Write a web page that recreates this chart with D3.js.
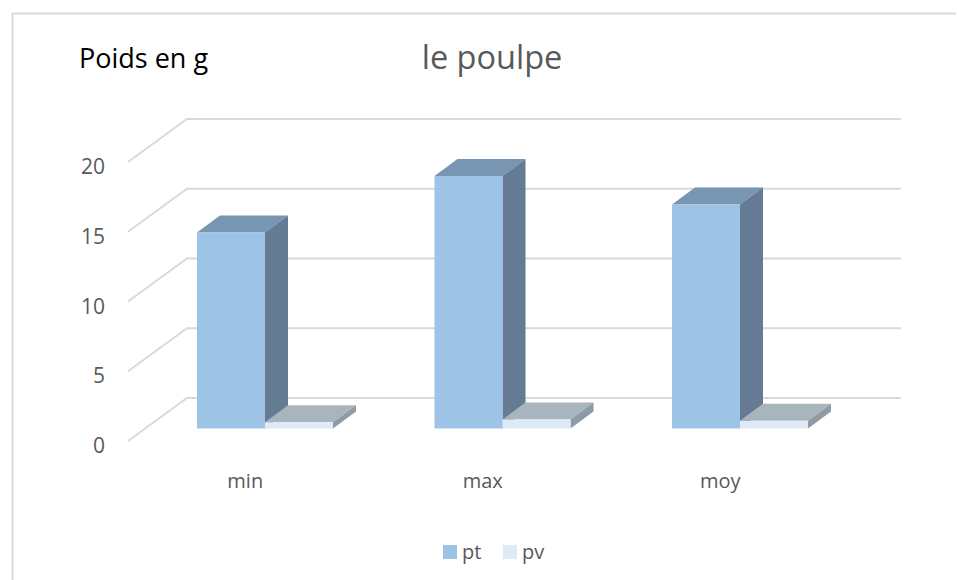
<!DOCTYPE html>
<html>
<head>
<meta charset="utf-8">
<script src="https://cdn.jsdelivr.net/npm/d3@7"></script>
<style>
html,body{margin:0;padding:0;background:#fff;overflow:hidden}
text{font-family:"Open Sans",sans-serif}
</style>
</head>
<body>
<svg width="957" height="580"></svg>
<script>
var categories=["min","max","moy"];
var seriesNames=["pt","pv"];
var pt=[14.05,18.1,16.05];
var pv=[0.45,0.65,0.55];
var yTicks=[0,5,10,15,20];

var svg=d3.select("svg");

//cadre
svg.append("path")
   .attr("d","M956,13.5H12.5V580")
   .attr("fill","none")
   .attr("stroke","#d9d9d9")
   .attr("stroke-width",2);

//echelles
var heightScale=d3.scaleLinear().domain([0,20]).range([0,279]);
var frontY=d3.scaleLinear().domain([0,20]).range([441,162]);
var backY=d3.scaleLinear().domain([0,20]).range([398,119]);
var catScale=d3.scaleBand().domain(categories).range([146.5,859]);
var serieScale=d3.scaleBand().domain(seriesNames).range([50.5,186.5]);
var color={pt:{front:"#9dc3e6",top:"#7896b2",side:"#647b93"},
           pv:{front:"#deebf7",top:"#a9b5bd",side:"#8e9aa4"}};
var baseY=428.5,depthX=23,depthY=17;

//grille
yTicks.forEach(function(t){
	svg.append("path")
	   .attr("d","M128,"+frontY(t)+"L187,"+backY(t)+"H901")
	   .attr("fill","none")
	   .attr("stroke","#d9d9d9")
	   .attr("stroke-width",2);
});

//barres
function drawBar(name,cat,value){
	var x=catScale(cat)+serieScale(name);
	var w=serieScale.bandwidth();
	var top=baseY-heightScale(value);
	var c=color[name];
	var g=svg.append("g");
	g.append("polygon")
	 .attr("points",[[x,top],[x+w,top],[x+w+depthX,top-depthY],[x+depthX,top-depthY]].join(" "))
	 .attr("fill",c.top);
	g.append("polygon")
	 .attr("points",[[x+w,top],[x+w+depthX,top-depthY],[x+w+depthX,baseY-depthY],[x+w,baseY]].join(" "))
	 .attr("fill",c.side);
	g.append("rect")
	 .attr("x",x).attr("y",top).attr("width",w).attr("height",baseY-top)
	 .attr("fill",c.front);
}
categories.forEach(function(cat,i){
	drawBar("pt",cat,pt[i]);
	drawBar("pv",cat,pv[i]);
});

//axes
var yAxis=svg.append("g")
   .attr("transform","translate(110,5)")
   .call(d3.axisLeft(frontY).tickValues(yTicks).tickSize(0).tickPadding(5));
var xAxis=svg.append("g")
   .attr("transform","translate(-20,474)")
   .call(d3.axisBottom(catScale).tickSize(0).tickPadding(0));
svg.selectAll(".domain").remove();
yAxis.selectAll("text").attr("fill","#595959").style("font-size","21px").style("font-family","'Open Sans',sans-serif");
xAxis.selectAll("text").attr("fill","#595959").style("font-size","20px").style("font-family","'Open Sans',sans-serif");

//titres
svg.append("text").attr("x",79).attr("y",68).attr("fill","#000").style("font-size","27px").text("Poids en g");
svg.append("text").attr("x",492).attr("y",69).attr("text-anchor","middle").attr("fill","#595959").style("font-size","32.5px").text("le poulpe");

//legende
var legendX={pt:443,pv:503};
seriesNames.forEach(function(n){
	svg.append("rect").attr("x",legendX[n]).attr("y",545).attr("width",14).attr("height",14).attr("fill",color[n].front);
	svg.append("text").attr("x",legendX[n]+19).attr("y",559).attr("fill","#595959").style("font-size","20px").text(n);
});
</script>
</body>
</html>
